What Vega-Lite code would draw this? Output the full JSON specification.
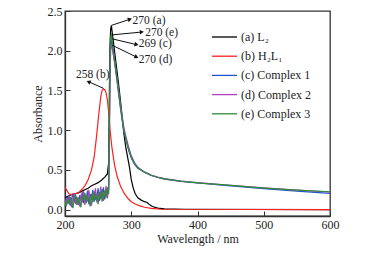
{
  "$schema": "https://vega.github.io/schema/vega-lite/v6.json",
  "width": 265,
  "height": 205,
  "autosize": {"type": "none"},
  "padding": {"left": 65, "top": 11, "right": 60, "bottom": 37},
  "background": "white",
  "config": {
    "font": "Liberation Serif",
    "view": {"stroke": "#333", "strokeWidth": 1.3},
    "axis": {
      "grid": false,
      "domainColor": "#333",
      "domainWidth": 1.3,
      "tickColor": "#333",
      "tickWidth": 1,
      "labelFont": "Liberation Serif",
      "labelFontSize": 12,
      "labelColor": "#222",
      "titleFont": "Liberation Serif",
      "titleFontSize": 12,
      "titleFontWeight": "normal",
      "titleColor": "#222"
    }
  },
  "datasets": {
    "spectra": [
      {"s": "(a) L₂", "w": 200, "A": 0.15}, {"s": "(a) L₂", "w": 205, "A": 0.17}, {"s": "(a) L₂", "w": 210, "A": 0.19}, {"s": "(a) L₂", "w": 215, "A": 0.2}, {"s": "(a) L₂", "w": 220, "A": 0.21}, {"s": "(a) L₂", "w": 225, "A": 0.23}, {"s": "(a) L₂", "w": 230, "A": 0.25}, {"s": "(a) L₂", "w": 235, "A": 0.27}, {"s": "(a) L₂", "w": 240, "A": 0.3}, {"s": "(a) L₂", "w": 245, "A": 0.32}, {"s": "(a) L₂", "w": 250, "A": 0.34}, {"s": "(a) L₂", "w": 255, "A": 0.37}, {"s": "(a) L₂", "w": 260, "A": 0.41}, {"s": "(a) L₂", "w": 264, "A": 0.45}, {"s": "(a) L₂", "w": 266, "A": 0.6}, {"s": "(a) L₂", "w": 267, "A": 1.5}, {"s": "(a) L₂", "w": 268, "A": 2.1}, {"s": "(a) L₂", "w": 269, "A": 2.28}, {"s": "(a) L₂", "w": 270, "A": 2.32}, {"s": "(a) L₂", "w": 272, "A": 2.18}, {"s": "(a) L₂", "w": 275, "A": 1.98}, {"s": "(a) L₂", "w": 278, "A": 1.78}, {"s": "(a) L₂", "w": 281, "A": 1.57}, {"s": "(a) L₂", "w": 284, "A": 1.35}, {"s": "(a) L₂", "w": 286, "A": 1.19}, {"s": "(a) L₂", "w": 289, "A": 0.95}, {"s": "(a) L₂", "w": 292, "A": 0.77}, {"s": "(a) L₂", "w": 295, "A": 0.64}, {"s": "(a) L₂", "w": 297, "A": 0.55}, {"s": "(a) L₂", "w": 300, "A": 0.38}, {"s": "(a) L₂", "w": 303, "A": 0.27}, {"s": "(a) L₂", "w": 306, "A": 0.2}, {"s": "(a) L₂", "w": 310, "A": 0.15}, {"s": "(a) L₂", "w": 315, "A": 0.12}, {"s": "(a) L₂", "w": 320, "A": 0.1}, {"s": "(a) L₂", "w": 324, "A": 0.09}, {"s": "(a) L₂", "w": 328, "A": 0.06}, {"s": "(a) L₂", "w": 332, "A": 0.04}, {"s": "(a) L₂", "w": 340, "A": 0.02}, {"s": "(a) L₂", "w": 350, "A": 0.01}, {"s": "(a) L₂", "w": 380, "A": 0.005}, {"s": "(a) L₂", "w": 600, "A": 0.0},

      {"s": "(b) H₂L₁", "w": 200, "A": 0.28}, {"s": "(b) H₂L₁", "w": 203, "A": 0.24}, {"s": "(b) H₂L₁", "w": 206, "A": 0.2}, {"s": "(b) H₂L₁", "w": 210, "A": 0.19}, {"s": "(b) H₂L₁", "w": 215, "A": 0.2}, {"s": "(b) H₂L₁", "w": 220, "A": 0.21}, {"s": "(b) H₂L₁", "w": 225, "A": 0.25}, {"s": "(b) H₂L₁", "w": 230, "A": 0.3}, {"s": "(b) H₂L₁", "w": 235, "A": 0.38}, {"s": "(b) H₂L₁", "w": 240, "A": 0.5}, {"s": "(b) H₂L₁", "w": 244, "A": 0.66}, {"s": "(b) H₂L₁", "w": 248, "A": 0.95}, {"s": "(b) H₂L₁", "w": 251, "A": 1.2}, {"s": "(b) H₂L₁", "w": 254, "A": 1.42}, {"s": "(b) H₂L₁", "w": 256, "A": 1.5}, {"s": "(b) H₂L₁", "w": 258, "A": 1.52}, {"s": "(b) H₂L₁", "w": 260, "A": 1.51}, {"s": "(b) H₂L₁", "w": 262, "A": 1.47}, {"s": "(b) H₂L₁", "w": 264, "A": 1.38}, {"s": "(b) H₂L₁", "w": 266, "A": 1.22}, {"s": "(b) H₂L₁", "w": 268, "A": 1.0}, {"s": "(b) H₂L₁", "w": 271, "A": 0.77}, {"s": "(b) H₂L₁", "w": 275, "A": 0.55}, {"s": "(b) H₂L₁", "w": 279, "A": 0.41}, {"s": "(b) H₂L₁", "w": 284, "A": 0.29}, {"s": "(b) H₂L₁", "w": 289, "A": 0.21}, {"s": "(b) H₂L₁", "w": 295, "A": 0.14}, {"s": "(b) H₂L₁", "w": 300, "A": 0.1}, {"s": "(b) H₂L₁", "w": 306, "A": 0.07}, {"s": "(b) H₂L₁", "w": 312, "A": 0.05}, {"s": "(b) H₂L₁", "w": 320, "A": 0.03}, {"s": "(b) H₂L₁", "w": 330, "A": 0.015}, {"s": "(b) H₂L₁", "w": 345, "A": 0.005}, {"s": "(b) H₂L₁", "w": 600, "A": 0.0},

      {"s": "(c) Complex 1", "w": 200, "A": 0.12}, {"s": "(c) Complex 1", "w": 202, "A": 0.08}, {"s": "(c) Complex 1", "w": 204, "A": 0.16}, {"s": "(c) Complex 1", "w": 206, "A": 0.1}, {"s": "(c) Complex 1", "w": 208, "A": 0.05}, {"s": "(c) Complex 1", "w": 210, "A": 0.14}, {"s": "(c) Complex 1", "w": 212, "A": 0.2}, {"s": "(c) Complex 1", "w": 214, "A": 0.09}, {"s": "(c) Complex 1", "w": 216, "A": 0.17}, {"s": "(c) Complex 1", "w": 218, "A": 0.12}, {"s": "(c) Complex 1", "w": 220, "A": 0.06}, {"s": "(c) Complex 1", "w": 222, "A": 0.18}, {"s": "(c) Complex 1", "w": 224, "A": 0.11}, {"s": "(c) Complex 1", "w": 226, "A": 0.22}, {"s": "(c) Complex 1", "w": 228, "A": 0.08}, {"s": "(c) Complex 1", "w": 230, "A": 0.19}, {"s": "(c) Complex 1", "w": 232, "A": 0.13}, {"s": "(c) Complex 1", "w": 234, "A": 0.24}, {"s": "(c) Complex 1", "w": 236, "A": 0.07}, {"s": "(c) Complex 1", "w": 238, "A": 0.2}, {"s": "(c) Complex 1", "w": 240, "A": 0.12}, {"s": "(c) Complex 1", "w": 242, "A": 0.25}, {"s": "(c) Complex 1", "w": 244, "A": 0.1}, {"s": "(c) Complex 1", "w": 246, "A": 0.22}, {"s": "(c) Complex 1", "w": 248, "A": 0.14}, {"s": "(c) Complex 1", "w": 250, "A": 0.27}, {"s": "(c) Complex 1", "w": 252, "A": 0.11}, {"s": "(c) Complex 1", "w": 254, "A": 0.24}, {"s": "(c) Complex 1", "w": 256, "A": 0.15}, {"s": "(c) Complex 1", "w": 258, "A": 0.28}, {"s": "(c) Complex 1", "w": 260, "A": 0.13}, {"s": "(c) Complex 1", "w": 262, "A": 0.26}, {"s": "(c) Complex 1", "w": 264, "A": 0.18}, {"s": "(c) Complex 1", "w": 266, "A": 0.3}, {"s": "(c) Complex 1", "w": 267, "A": 1.0}, {"s": "(c) Complex 1", "w": 268, "A": 1.8}, {"s": "(c) Complex 1", "w": 269, "A": 2.15}, {"s": "(c) Complex 1", "w": 270, "A": 2.12}, {"s": "(c) Complex 1", "w": 272, "A": 2.02}, {"s": "(c) Complex 1", "w": 274, "A": 1.9}, {"s": "(c) Complex 1", "w": 276, "A": 1.78}, {"s": "(c) Complex 1", "w": 278, "A": 1.65}, {"s": "(c) Complex 1", "w": 280, "A": 1.52}, {"s": "(c) Complex 1", "w": 283, "A": 1.32}, {"s": "(c) Complex 1", "w": 286, "A": 1.14}, {"s": "(c) Complex 1", "w": 289, "A": 0.98}, {"s": "(c) Complex 1", "w": 292, "A": 0.88}, {"s": "(c) Complex 1", "w": 296, "A": 0.75}, {"s": "(c) Complex 1", "w": 300, "A": 0.65}, {"s": "(c) Complex 1", "w": 305, "A": 0.57}, {"s": "(c) Complex 1", "w": 310, "A": 0.52}, {"s": "(c) Complex 1", "w": 320, "A": 0.47}, {"s": "(c) Complex 1", "w": 330, "A": 0.43}, {"s": "(c) Complex 1", "w": 340, "A": 0.405}, {"s": "(c) Complex 1", "w": 350, "A": 0.385}, {"s": "(c) Complex 1", "w": 375, "A": 0.355}, {"s": "(c) Complex 1", "w": 400, "A": 0.335}, {"s": "(c) Complex 1", "w": 450, "A": 0.3}, {"s": "(c) Complex 1", "w": 500, "A": 0.265}, {"s": "(c) Complex 1", "w": 550, "A": 0.232}, {"s": "(c) Complex 1", "w": 600, "A": 0.205},

      {"s": "(d) Complex 2", "w": 200, "A": 0.05}, {"s": "(d) Complex 2", "w": 202, "A": 0.14}, {"s": "(d) Complex 2", "w": 204, "A": 0.08}, {"s": "(d) Complex 2", "w": 206, "A": 0.18}, {"s": "(d) Complex 2", "w": 208, "A": 0.1}, {"s": "(d) Complex 2", "w": 210, "A": 0.03}, {"s": "(d) Complex 2", "w": 212, "A": 0.15}, {"s": "(d) Complex 2", "w": 214, "A": 0.2}, {"s": "(d) Complex 2", "w": 216, "A": 0.07}, {"s": "(d) Complex 2", "w": 218, "A": 0.16}, {"s": "(d) Complex 2", "w": 220, "A": 0.11}, {"s": "(d) Complex 2", "w": 222, "A": 0.04}, {"s": "(d) Complex 2", "w": 224, "A": 0.19}, {"s": "(d) Complex 2", "w": 226, "A": 0.09}, {"s": "(d) Complex 2", "w": 228, "A": 0.23}, {"s": "(d) Complex 2", "w": 230, "A": 0.06}, {"s": "(d) Complex 2", "w": 232, "A": 0.17}, {"s": "(d) Complex 2", "w": 234, "A": 0.1}, {"s": "(d) Complex 2", "w": 236, "A": 0.25}, {"s": "(d) Complex 2", "w": 238, "A": 0.12}, {"s": "(d) Complex 2", "w": 240, "A": 0.05}, {"s": "(d) Complex 2", "w": 242, "A": 0.21}, {"s": "(d) Complex 2", "w": 244, "A": 0.14}, {"s": "(d) Complex 2", "w": 246, "A": 0.27}, {"s": "(d) Complex 2", "w": 248, "A": 0.09}, {"s": "(d) Complex 2", "w": 250, "A": 0.2}, {"s": "(d) Complex 2", "w": 252, "A": 0.16}, {"s": "(d) Complex 2", "w": 254, "A": 0.29}, {"s": "(d) Complex 2", "w": 256, "A": 0.1}, {"s": "(d) Complex 2", "w": 258, "A": 0.22}, {"s": "(d) Complex 2", "w": 260, "A": 0.17}, {"s": "(d) Complex 2", "w": 262, "A": 0.3}, {"s": "(d) Complex 2", "w": 264, "A": 0.14}, {"s": "(d) Complex 2", "w": 266, "A": 0.26}, {"s": "(d) Complex 2", "w": 267, "A": 0.9}, {"s": "(d) Complex 2", "w": 268, "A": 1.7}, {"s": "(d) Complex 2", "w": 269, "A": 2.02}, {"s": "(d) Complex 2", "w": 270, "A": 2.07}, {"s": "(d) Complex 2", "w": 272, "A": 2.0}, {"s": "(d) Complex 2", "w": 274, "A": 1.9}, {"s": "(d) Complex 2", "w": 276, "A": 1.8}, {"s": "(d) Complex 2", "w": 278, "A": 1.68}, {"s": "(d) Complex 2", "w": 280, "A": 1.56}, {"s": "(d) Complex 2", "w": 283, "A": 1.37}, {"s": "(d) Complex 2", "w": 286, "A": 1.19}, {"s": "(d) Complex 2", "w": 289, "A": 1.03}, {"s": "(d) Complex 2", "w": 292, "A": 0.92}, {"s": "(d) Complex 2", "w": 296, "A": 0.79}, {"s": "(d) Complex 2", "w": 300, "A": 0.68}, {"s": "(d) Complex 2", "w": 305, "A": 0.59}, {"s": "(d) Complex 2", "w": 310, "A": 0.535}, {"s": "(d) Complex 2", "w": 320, "A": 0.475}, {"s": "(d) Complex 2", "w": 330, "A": 0.435}, {"s": "(d) Complex 2", "w": 340, "A": 0.41}, {"s": "(d) Complex 2", "w": 350, "A": 0.39}, {"s": "(d) Complex 2", "w": 375, "A": 0.36}, {"s": "(d) Complex 2", "w": 400, "A": 0.34}, {"s": "(d) Complex 2", "w": 450, "A": 0.307}, {"s": "(d) Complex 2", "w": 500, "A": 0.274}, {"s": "(d) Complex 2", "w": 550, "A": 0.245}, {"s": "(d) Complex 2", "w": 600, "A": 0.222},

      {"s": "(e) Complex 3", "w": 200, "A": 0.1}, {"s": "(e) Complex 3", "w": 202, "A": 0.04}, {"s": "(e) Complex 3", "w": 204, "A": 0.13}, {"s": "(e) Complex 3", "w": 206, "A": 0.07}, {"s": "(e) Complex 3", "w": 208, "A": 0.16}, {"s": "(e) Complex 3", "w": 210, "A": 0.09}, {"s": "(e) Complex 3", "w": 212, "A": 0.02}, {"s": "(e) Complex 3", "w": 214, "A": 0.14}, {"s": "(e) Complex 3", "w": 216, "A": 0.19}, {"s": "(e) Complex 3", "w": 218, "A": 0.06}, {"s": "(e) Complex 3", "w": 220, "A": 0.15}, {"s": "(e) Complex 3", "w": 222, "A": 0.1}, {"s": "(e) Complex 3", "w": 224, "A": 0.03}, {"s": "(e) Complex 3", "w": 226, "A": 0.17}, {"s": "(e) Complex 3", "w": 228, "A": 0.12}, {"s": "(e) Complex 3", "w": 230, "A": 0.21}, {"s": "(e) Complex 3", "w": 232, "A": 0.08}, {"s": "(e) Complex 3", "w": 234, "A": 0.18}, {"s": "(e) Complex 3", "w": 236, "A": 0.13}, {"s": "(e) Complex 3", "w": 238, "A": 0.04}, {"s": "(e) Complex 3", "w": 240, "A": 0.2}, {"s": "(e) Complex 3", "w": 242, "A": 0.09}, {"s": "(e) Complex 3", "w": 244, "A": 0.23}, {"s": "(e) Complex 3", "w": 246, "A": 0.12}, {"s": "(e) Complex 3", "w": 248, "A": 0.18}, {"s": "(e) Complex 3", "w": 250, "A": 0.07}, {"s": "(e) Complex 3", "w": 252, "A": 0.22}, {"s": "(e) Complex 3", "w": 254, "A": 0.13}, {"s": "(e) Complex 3", "w": 256, "A": 0.26}, {"s": "(e) Complex 3", "w": 258, "A": 0.11}, {"s": "(e) Complex 3", "w": 260, "A": 0.24}, {"s": "(e) Complex 3", "w": 262, "A": 0.15}, {"s": "(e) Complex 3", "w": 264, "A": 0.28}, {"s": "(e) Complex 3", "w": 266, "A": 0.2}, {"s": "(e) Complex 3", "w": 267, "A": 1.1}, {"s": "(e) Complex 3", "w": 268, "A": 1.9}, {"s": "(e) Complex 3", "w": 269, "A": 2.18}, {"s": "(e) Complex 3", "w": 270, "A": 2.2}, {"s": "(e) Complex 3", "w": 272, "A": 2.08}, {"s": "(e) Complex 3", "w": 274, "A": 1.95}, {"s": "(e) Complex 3", "w": 276, "A": 1.82}, {"s": "(e) Complex 3", "w": 278, "A": 1.68}, {"s": "(e) Complex 3", "w": 280, "A": 1.55}, {"s": "(e) Complex 3", "w": 283, "A": 1.34}, {"s": "(e) Complex 3", "w": 286, "A": 1.16}, {"s": "(e) Complex 3", "w": 289, "A": 0.99}, {"s": "(e) Complex 3", "w": 292, "A": 0.89}, {"s": "(e) Complex 3", "w": 296, "A": 0.76}, {"s": "(e) Complex 3", "w": 300, "A": 0.66}, {"s": "(e) Complex 3", "w": 305, "A": 0.58}, {"s": "(e) Complex 3", "w": 310, "A": 0.525}, {"s": "(e) Complex 3", "w": 320, "A": 0.472}, {"s": "(e) Complex 3", "w": 330, "A": 0.433}, {"s": "(e) Complex 3", "w": 340, "A": 0.408}, {"s": "(e) Complex 3", "w": 350, "A": 0.388}, {"s": "(e) Complex 3", "w": 375, "A": 0.358}, {"s": "(e) Complex 3", "w": 400, "A": 0.338}, {"s": "(e) Complex 3", "w": 450, "A": 0.305}, {"s": "(e) Complex 3", "w": 500, "A": 0.272}, {"s": "(e) Complex 3", "w": 550, "A": 0.245}, {"s": "(e) Complex 3", "w": 600, "A": 0.225}
    ],
    "notes": [
      {"label": "270 (a)", "x": 270.5, "y": 2.32, "x2": 298, "y2": 2.396, "tx": 302, "ty": 2.375},
      {"label": "270 (e)", "x": 271.5, "y": 2.2, "x2": 316, "y2": 2.235, "tx": 321, "ty": 2.225},
      {"label": "269 (c)", "x": 271, "y": 2.15, "x2": 308, "y2": 2.077, "tx": 311.5, "ty": 2.085},
      {"label": "270 (d)", "x": 271, "y": 2.07, "x2": 308, "y2": 1.92, "tx": 311.5, "ty": 1.885},
      {"label": "258 (b)", "x": 258, "y": 1.527, "x2": 235.5, "y2": 1.61, "tx": 216.5, "ty": 1.69}
    ]
  },
  "layer": [
    {
      "data": {"name": "spectra"},
      "mark": {"type": "line", "strokeWidth": 1.2, "clip": true, "interpolate": "linear"},
      "encoding": {
        "x": {
          "field": "w", "type": "quantitative",
          "scale": {"domain": [200, 600], "nice": false, "zero": false},
          "axis": {
            "title": "Wavelength / nm",
            "values": [200, 250, 300, 350, 400, 450, 500, 550, 600],
            "tickSize": {"condition": {"test": "datum.value % 100 === 0", "value": -5}, "value": -3},
            "labelExpr": "datum.value % 100 === 0 ? datum.label : ''",
            "labelPadding": 8,
            "titlePadding": 3,
            "labelFlush": false
          }
        },
        "y": {
          "field": "A", "type": "quantitative",
          "scale": {"domain": [-0.08, 2.5], "nice": false, "zero": false},
          "axis": {
            "title": "Absorbance",
            "values": [0, 0.25, 0.5, 0.75, 1, 1.25, 1.5, 1.75, 2, 2.25, 2.5],
            "tickSize": {"condition": {"test": "round(datum.value * 4) % 2 === 0", "value": -5}, "value": -3},
            "labelExpr": "round(datum.value * 4) % 2 === 0 ? format(datum.value, '.1f') : ''",
            "labelPadding": 8,
            "titlePadding": 3,
            "labelFlush": false
          }
        },
        "color": {
          "field": "s", "type": "nominal",
          "scale": {
            "domain": ["(a) L₂", "(b) H₂L₁", "(c) Complex 1", "(d) Complex 2", "(e) Complex 3"],
            "range": ["#000000", "#ff1f1f", "#2255cc", "#b040c0", "#2e8b3a"]
          },
          "legend": {
            "title": null,
            "orient": "none",
            "legendX": 152.5,
            "legendY": 19,
            "padding": 0,
            "symbolType": "M-2,0H2",
            "symbolSize": 156,
            "symbolStrokeWidth": 1.3,
            "labelFont": "Liberation Serif",
            "labelFontSize": 12,
            "labelColor": "#222",
            "labelOffset": 9.5,
            "rowPadding": 6.2
          }
        }
      }
    },
    {
      "data": {"name": "notes"},
      "mark": {"type": "rule", "color": "#111", "strokeWidth": 1},
      "encoding": {
        "x": {"field": "x", "type": "quantitative"},
        "y": {"field": "y", "type": "quantitative"},
        "x2": {"field": "x2"},
        "y2": {"field": "y2"}
      }
    },
    {
      "data": {"name": "notes"},
      "transform": [
        {"calculate": "atan2(-(datum.y2 - datum.y) * 79.46, (datum.x2 - datum.x) * 0.6625) * 180 / PI", "as": "ang"}
      ],
      "mark": {"type": "point", "shape": "triangle-right", "filled": true, "color": "#111", "size": 22, "opacity": 1},
      "encoding": {
        "x": {"field": "x2", "type": "quantitative"},
        "y": {"field": "y2", "type": "quantitative"},
        "angle": {"field": "ang", "type": "quantitative", "scale": null}
      }
    },
    {
      "data": {"name": "notes"},
      "mark": {"type": "text", "align": "left", "baseline": "middle", "font": "Liberation Serif", "fontSize": 11.5, "color": "#222"},
      "encoding": {
        "x": {"field": "tx", "type": "quantitative"},
        "y": {"field": "ty", "type": "quantitative"},
        "text": {"field": "label"}
      }
    }
  ]
}
